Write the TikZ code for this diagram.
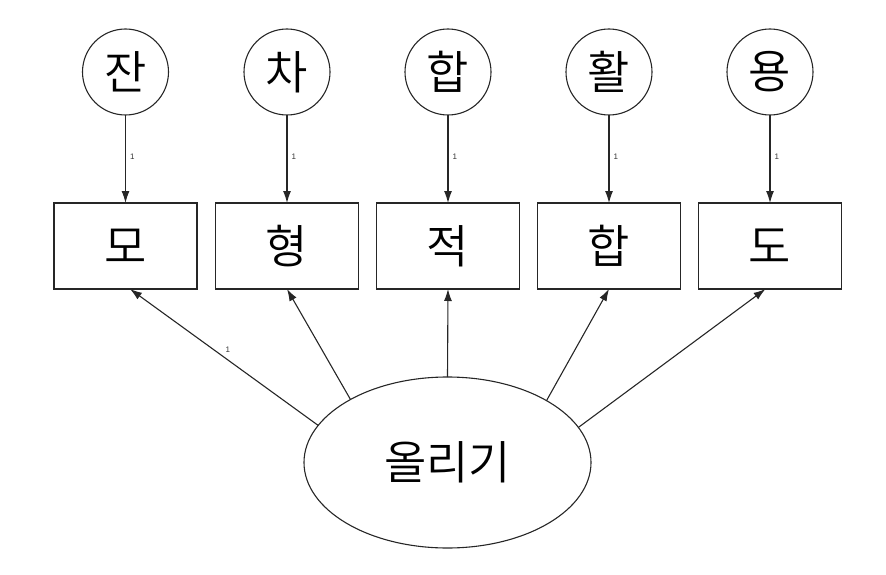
\documentclass[tikz,border=0pt]{standalone}
\usepackage{fontspec}
\setmainfont{Liberation Sans}
\newfontfamily\kr[UprightFont={* DemiLight}]{Noto Sans CJK KR}
\usetikzlibrary{arrows.meta,shapes.geometric}
\tikzset{
  lat/.style={circle,draw=black!85,line width=1.1pt,minimum size=86pt,inner sep=0pt,outer sep=0pt,font=\kr\fontsize{46}{46}\selectfont},
  obs/.style={rectangle,draw=black!85,line width=1.1pt,minimum width=143pt,minimum height=86pt,inner sep=0pt,outer sep=0pt,font=\kr\fontsize{46}{46}\selectfont},
  fac/.style={ellipse,draw=black!85,line width=1.1pt,minimum width=287pt,minimum height=171pt,inner sep=0pt,outer sep=0pt,font=\kr\fontsize{46}{46}\selectfont},
  conn/.style={draw=black!85,line width=1.1pt,-{Latex[length=12pt,width=8pt]}},
  lbl/.style={font=\fontsize{8}{8}\selectfont,text=black!80,inner sep=0pt}
}
\begin{document}
\begin{tikzpicture}[x=1pt,y=-1pt]
\useasboundingbox (0,0) rectangle (886,575);
\node[lat] (c1) at (125.5,72) {잔};
\node[lat] (c2) at (287,72) {차};
\node[lat] (c3) at (448,72) {합};
\node[lat] (c4) at (609,72) {활};
\node[lat] (c5) at (770,72) {용};
\node[obs] (b1) at (125.5,246) {모};
\node[obs] (b2) at (287,246) {형};
\node[obs] (b3) at (448,246) {적};
\node[obs] (b4) at (609,246) {합};
\node[obs] (b5) at (770,246) {도};
\node[fac] (el) at (447.5,462.5) {올리기};
\foreach \i in {1,...,5}{
  \draw[conn] (c\i) -- node[lbl,pos=0.47,right=4pt]{1} (b\i);
}
\draw[conn] (el.164.9) -- node[lbl,pos=0.48,yshift=10pt]{1} ([xshift=4.5pt]b1.south);
\draw[conn] (el.147.9) -- (b2.south);
\draw[conn] (el.90) -- (b3.south);
\draw[conn] (el.32.1) -- (b4.south);
\draw[conn] (el.15.1) -- ([xshift=-4.5pt]b5.south);
\end{tikzpicture}
\end{document}
